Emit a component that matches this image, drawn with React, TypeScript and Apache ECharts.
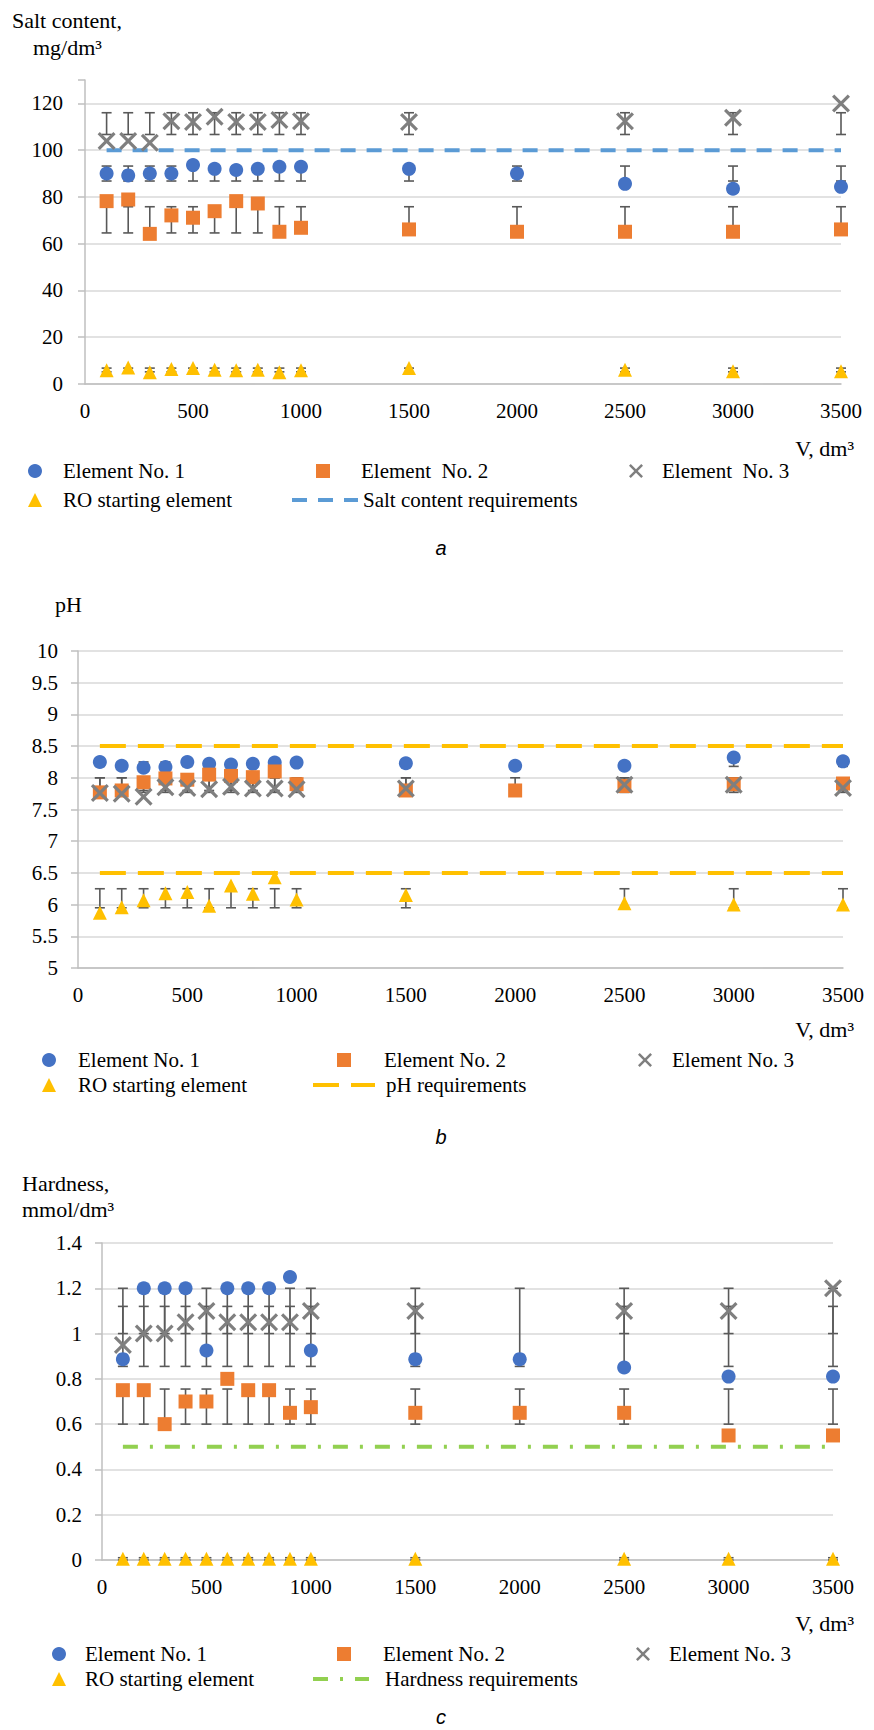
import React, { useEffect, useRef } from 'react';
import * as echarts from 'echarts';

// ---------- data ----------
const volumes = [100, 200, 300, 400, 500, 600, 700, 800, 900, 1000, 1500, 2000, 2500, 3000, 3500];
const reqRange = [100, 3500];
const xTicks = [0, 500, 1000, 1500, 2000, 2500, 3000, 3500];

// (a) salt content, mg/dm3
const saltE1 = [90, 89.2, 90, 90, 93.6, 92, 91.5, 92, 92.9, 92.9, 92, 90, 85.6, 83.5, 84.3];
const saltE2 = [78.2, 78.9, 64.2, 72.1, 71.1, 73.9, 78.2, 77.2, 65.1, 66.8, 66.1, 65.1, 65.1, 65.1, 66.1];
const saltE3 = [103.9, 103.9, 103.2, 112.4, 112, 114.3, 112, 112, 112.9, 112.4, 112, null, 112.4, 113.9, 120];
const saltRO = [5.9, 7.1, 5.0, 6.4, 6.8, 6.1, 5.9, 6.1, 5.0, 5.9, 6.8, null, 6.1, 5.4, 5.4];
const saltErrE1 = [86.8, 93.2];
const saltErrE2 = [64.6, 75.8];
const saltErrE3 = [106.7, 116];
const saltErrRO = [5.2, 6.8];
const saltReq = 100;
const saltTicks = [0, 20, 40, 60, 80, 100, 120];

// (b) pH
const pHE1 = [8.25, 8.19, 8.16, 8.17, 8.25, 8.22, 8.21, 8.22, 8.24, 8.24, 8.23, 8.19, 8.19, 8.32, 8.26];
const pHE2 = [7.77, 7.8, 7.93, 7.99, 7.97, 8.05, 8.03, 8.01, 8.1, 7.9, 7.8, 7.8, 7.87, 7.9, 7.91];
const pHE3 = [7.76, 7.75, 7.7, 7.85, 7.84, 7.82, 7.86, 7.83, 7.83, 7.82, 7.83, null, 7.89, 7.89, 7.84];
const pHRO = [5.87, 5.96, 6.07, 6.18, 6.2, 5.98, 6.3, 6.17, 6.43, 6.08, 6.15, null, 6.02, 6.0, 6.0];
const pHErrE1 = [8.18, 8.25];
const pHErrE2 = [7.8, 8.0];
const pHErrE3 = [7.77, 8.0];
const pHErrRO = [5.95, 6.25];
const pHReqLow = 6.5;
const pHReqHigh = 8.5;

// (c) hardness, mmol/dm3
const hardE1 = [0.887, 1.2, 1.2, 1.2, 0.925, 1.2, 1.2, 1.2, 1.25, 0.925, 0.887, 0.887, 0.85, 0.81, 0.81];
const hardE2 = [0.75, 0.75, 0.6, 0.7, 0.7, 0.8, 0.75, 0.75, 0.65, 0.675, 0.65, 0.65, 0.65, 0.55, 0.55];
const hardE3 = [0.95, 1.0, 1.0, 1.05, 1.1, 1.05, 1.05, 1.05, 1.05, 1.1, 1.1, null, 1.1, 1.1, 1.2];
const hardRO = [0.005, 0.005, 0.005, 0.005, 0.005, 0.005, 0.005, 0.005, 0.005, 0.005, 0.005, null, 0.005, 0.005, 0.005];
const hardErrE1 = [0.855, 1.2];
const hardErrE2 = [0.6, 0.755];
const hardErrE3 = [1.0, 1.12];
const hardErrRO = [0.0, 0.01];
const hardReq = 0.5;

// ---------- styles ----------
const FONT = 'Liberation Serif, serif';
const SANS = 'Liberation Sans, sans-serif';
const BLUE = '#4472C4';
const ORANGE = '#ED7D31';
const GREY = '#7F7F7F';
const GOLD = '#FFC000';
const SALT_BLUE = '#5B9BD5';
const GREEN = '#92D050';
const SALT_DASH = [15, 11];
const PH_DASH = [26, 12];
const HARD_DASH = [15, 12, 3, 12];
const X_PATH =
  'path://M0,2.5 L2.5,0 L10,7.5 L17.5,0 L20,2.5 L12.5,10 L20,17.5 L17.5,20 L10,12.5 L2.5,20 L0,17.5 L7.5,10 Z';

const pts = (vals: (number | null)[]) =>
  volumes.map((x, i) => [x, vals[i]]).filter((p) => p[1] !== null);

const errPts = (vals: (number | null)[], err: number[]) =>
  volumes.filter((_, i) => vals[i] !== null).map((x) => [x, err[0], err[1]]);

const errSeries = (idx: number, vals: (number | null)[], err: number[]) => ({
  type: 'custom',
  name: 'err' + idx,
  xAxisIndex: idx,
  yAxisIndex: idx,
  z: 1,
  silent: true,
  encode: { x: 0, y: [1, 2] },
  data: errPts(vals, err),
  renderItem: (_p: any, api: any) => {
    const x = api.value(0);
    const lo = api.coord([x, api.value(1)]);
    const hi = api.coord([x, api.value(2)]);
    const hw = 5;
    const style = { stroke: '#595959', lineWidth: 1.6 };
    return {
      type: 'group',
      children: [
        { type: 'line', shape: { x1: lo[0], y1: lo[1], x2: hi[0], y2: hi[1] }, style },
        { type: 'line', shape: { x1: hi[0] - hw, y1: hi[1], x2: hi[0] + hw, y2: hi[1] }, style },
        { type: 'line', shape: { x1: lo[0] - hw, y1: lo[1], x2: lo[0] + hw, y2: lo[1] }, style },
      ],
    };
  },
});

const scatter = (idx: number, name: string, vals: (number | null)[], symbol: string, size: number, color: string) => ({
  type: 'scatter',
  name,
  xAxisIndex: idx,
  yAxisIndex: idx,
  z: 3,
  symbol,
  symbolSize: size,
  itemStyle: { color, opacity: 1 },
  data: pts(vals),
});

const reqLine = (idx: number, name: string, value: number, color: string, dash: number[]) => ({
  type: 'line',
  name,
  xAxisIndex: idx,
  yAxisIndex: idx,
  z: 2,
  symbol: 'none',
  silent: true,
  itemStyle: { color },
  lineStyle: { color, width: 4, type: dash },
  data: reqRange.map((x) => [x, value]),
});

const xAxis = (idx: number) => ({
  type: 'value',
  gridIndex: idx,
  min: 0,
  max: 3500,
  interval: 500,
  axisLine: { show: true, lineStyle: { color: '#BFBFBF', width: 1.5 } },
  axisTick: { show: false },
  splitLine: { show: false },
  axisLabel: {
    fontFamily: FONT,
    fontSize: 21,
    color: '#000',
    margin: 16,
    formatter: (v: number) => (xTicks.indexOf(v) >= 0 ? String(v) : ''),
  },
});

const yAxis = (idx: number, min: number, max: number, interval: number, margin: number, extra: any = {}) => ({
  type: 'value',
  gridIndex: idx,
  min,
  max,
  interval,
  axisLine: { show: true, lineStyle: { color: '#BFBFBF', width: 1.5 } },
  axisTick: { show: true, length: 7, lineStyle: { color: '#BFBFBF', width: 1.5 } },
  splitLine: { show: true, lineStyle: { color: '#D9D9D9', width: 1.5 } },
  axisLabel: { fontFamily: FONT, fontSize: 21, color: '#000', margin, formatter: (v: number) => String(v) },
  ...extra,
});

// symbol legend item: icon centre cx, text starting at tx
const legendSym = (name: string, cx: number, tx: number, rowY: number) => ({
  data: [name],
  left: cx - 7,
  top: rowY - 11,
  itemWidth: 14,
  itemHeight: 14,
  padding: 0,
  selectedMode: false,
  textStyle: {
    fontFamily: FONT,
    fontSize: 21,
    color: '#000',
    lineHeight: 22,
    padding: [0, 0, 0, tx - (cx + 12)],
  },
});

// line legend item: line from x0 to x1, text starting at tx
const legendLine = (name: string, x0: number, x1: number, tx: number, rowY: number, color: string, dash: number[]) => ({
  data: [{ name, itemStyle: { opacity: 0 }, lineStyle: { color, width: 4, type: dash } }],
  left: x0,
  top: rowY - 11,
  itemWidth: x1 - x0,
  itemHeight: 14,
  padding: 0,
  selectedMode: false,
  textStyle: {
    fontFamily: FONT,
    fontSize: 21,
    color: '#000',
    lineHeight: 22,
    padding: [0, 0, 0, Math.max(0, tx - (x1 + 5))],
  },
});

const txt = (text: string, x: number, y: number, align = 'left', font = FONT, size = 22, italic = false) => ({
  type: 'text',
  x,
  y,
  silent: true,
  style: {
    text,
    fill: '#000',
    fontFamily: font,
    fontSize: size,
    fontStyle: italic ? 'italic' : 'normal',
    align,
    verticalAlign: 'middle',
  },
});

export default function App() {
  const ref = useRef<HTMLDivElement>(null);

  useEffect(() => {
    if (!ref.current) return;
    const chart = echarts.init(ref.current, undefined, { renderer: 'svg' });

    const saltSplitColors = saltTicks.map(() => '#D9D9D9').concat(['rgba(0,0,0,0)']);

    const option: any = {
      animation: false,
      backgroundColor: '#fff',
      textStyle: { fontFamily: FONT },
      grid: [
        { left: 85, top: 80, width: 756, height: 304, outerBoundsMode: 'none' },
        { left: 78, top: 651, width: 765, height: 317, outerBoundsMode: 'none' },
        { left: 102, top: 1243, width: 731, height: 317, outerBoundsMode: 'none' },
      ],
      xAxis: [xAxis(0), xAxis(1), xAxis(2)],
      yAxis: [
        yAxis(0, 0, 130, 20, 22, {
          splitLine: { show: true, lineStyle: { color: saltSplitColors, width: 1.5 } },
          axisLabel: {
            fontFamily: FONT,
            fontSize: 21,
            color: '#000',
            margin: 22,
            formatter: (v: number) => (saltTicks.indexOf(v) >= 0 ? String(v) : ''),
          },
        }),
        yAxis(1, 5, 10, 0.5, 20),
        yAxis(2, 0, 1.4, 0.2, 20),
      ],
      legend: [
        legendSym('Element No. 1', 35, 63, 471),
        legendSym('Element  No. 2', 323, 361, 471),
        legendSym('Element  No. 3', 636, 662, 471),
        legendSym('RO starting element', 35, 63, 500),
        legendLine('Salt content requirements', 290, 356, 361, 500, SALT_BLUE, SALT_DASH),

        legendSym('Element No. 1', 49, 78, 1060),
        legendSym('Element No. 2', 344, 384, 1060),
        legendSym('Element No. 3', 645, 672, 1060),
        legendSym('RO starting element', 49, 78, 1085),
        legendLine('pH requirements', 311, 373, 384, 1085, GOLD, PH_DASH),

        legendSym('Element No. 1', 59, 85, 1654),
        legendSym('Element No. 2', 344, 383, 1654),
        legendSym('Element No. 3', 643, 669, 1654),
        legendSym('RO starting element', 59, 85, 1679),
        legendLine('Hardness requirements', 311, 367, 383, 1679, GREEN, HARD_DASH),
      ],
      graphic: [
        txt('Salt content,', 12, 20),
        txt('mg/dm³', 33, 47),
        txt('V, dm³', 854, 448, 'right'),
        txt('a', 441, 548, 'center', SANS, 20, true),

        txt('pH', 55, 604),
        txt('V, dm³', 854, 1029, 'right'),
        txt('b', 441, 1137, 'center', SANS, 20, true),

        txt('Hardness,', 22, 1183),
        txt('mmol/dm³', 22, 1209),
        txt('V, dm³', 854, 1623, 'right'),
        txt('c', 441, 1717, 'center', SANS, 20, true),
      ],
      series: [
        // (a)
        errSeries(0, saltE1, saltErrE1),
        errSeries(0, saltE2, saltErrE2),
        errSeries(0, saltE3, saltErrE3),
        errSeries(0, saltRO, saltErrRO),
        reqLine(0, 'Salt content requirements', saltReq, SALT_BLUE, SALT_DASH),
        scatter(0, 'Element No. 1', saltE1, 'circle', 14, BLUE),
        scatter(0, 'Element  No. 2', saltE2, 'rect', 14, ORANGE),
        scatter(0, 'Element  No. 3', saltE3, X_PATH, 18, GREY),
        scatter(0, 'RO starting element', saltRO, 'triangle', 14, GOLD),
        // (b)
        errSeries(1, pHE1, pHErrE1),
        errSeries(1, pHE2, pHErrE2),
        errSeries(1, pHE3, pHErrE3),
        errSeries(1, pHRO, pHErrRO),
        reqLine(1, 'pH requirements', pHReqHigh, GOLD, PH_DASH),
        reqLine(1, 'pH requirements', pHReqLow, GOLD, PH_DASH),
        scatter(1, 'Element No. 1', pHE1, 'circle', 14, BLUE),
        scatter(1, 'Element No. 2', pHE2, 'rect', 14, ORANGE),
        scatter(1, 'Element No. 3', pHE3, X_PATH, 18, GREY),
        scatter(1, 'RO starting element', pHRO, 'triangle', 14, GOLD),
        // (c)
        errSeries(2, hardE1, hardErrE1),
        errSeries(2, hardE2, hardErrE2),
        errSeries(2, hardE3, hardErrE3),
        errSeries(2, hardRO, hardErrRO),
        reqLine(2, 'Hardness requirements', hardReq, GREEN, HARD_DASH),
        scatter(2, 'Element No. 1', hardE1, 'circle', 14, BLUE),
        scatter(2, 'Element No. 2', hardE2, 'rect', 14, ORANGE),
        scatter(2, 'Element No. 3', hardE3, X_PATH, 18, GREY),
        scatter(2, 'RO starting element', hardRO, 'triangle', 14, GOLD),
      ],
    };

    chart.setOption(option);
    return () => chart.dispose();
  }, []);

  return (
    <div
      ref={ref}
      style={{ position: 'absolute', left: 0, top: 0, width: 874, height: 1730, background: '#fff' }}
    />
  );
}
